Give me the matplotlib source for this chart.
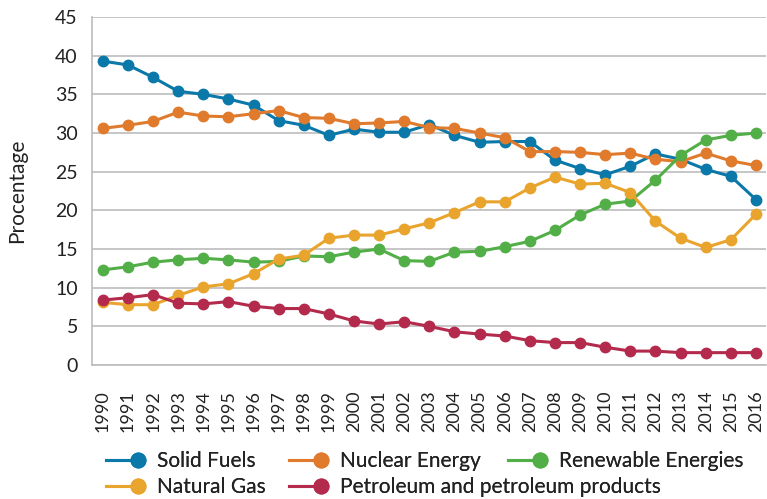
import numpy as np
import matplotlib.pyplot as plt
from matplotlib.lines import Line2D
from matplotlib.legend_handler import HandlerBase
import matplotlib.transforms as mtransforms

plt.rcParams['font.family'] = ['Lato', 'DejaVu Sans']

years = np.arange(1990, 2017)

solid_fuels = [39.3, 38.8, 37.2, 35.4, 35.0, 34.4, 33.6, 31.6, 31.0, 29.7,
               30.5, 30.1, 30.1, 31.1, 29.7, 28.8, 28.9, 28.9, 26.5, 25.4,
               24.6, 25.7, 27.3, 26.6, 25.3, 24.4, 21.4]
nuclear = [30.6, 31.0, 31.5, 32.7, 32.2, 32.1, 32.5, 32.9, 32.0, 31.9,
           31.2, 31.3, 31.5, 30.7, 30.6, 30.0, 29.4, 27.6, 27.6, 27.5,
           27.2, 27.4, 26.6, 26.3, 27.4, 26.4, 25.8]
renewable = [12.3, 12.7, 13.3, 13.6, 13.8, 13.6, 13.3, 13.4, 14.1, 14.0,
             14.6, 15.0, 13.5, 13.4, 14.6, 14.7, 15.3, 16.0, 17.4, 19.4,
             20.8, 21.2, 23.9, 27.1, 29.1, 29.7, 30.0]
natural_gas = [8.1, 7.8, 7.8, 9.0, 10.1, 10.5, 11.8, 13.7, 14.2, 16.4,
               16.8, 16.8, 17.6, 18.4, 19.7, 21.1, 21.1, 22.9, 24.3, 23.4,
               23.5, 22.3, 18.6, 16.4, 15.2, 16.2, 19.5]
petroleum = [8.4, 8.7, 9.1, 8.0, 7.9, 8.2, 7.6, 7.3, 7.3, 6.6,
             5.7, 5.3, 5.6, 5.0, 4.3, 4.0, 3.75, 3.15, 2.9, 2.9,
             2.3, 1.8, 1.8, 1.6, 1.6, 1.6, 1.6]

series = [
    ("Solid Fuels", solid_fuels, "#0a78a8"),
    ("Nuclear Energy", nuclear, "#e07a2c"),
    ("Renewable Energies", renewable, "#52ae47"),
    ("Natural Gas", natural_gas, "#e9a42e"),
    ("Petroleum and petroleum products", petroleum, "#b32a4c"),
]


# legend key: line with the dot at its right end
class EndDot(HandlerBase):
    def create_artists(self, legend, orig_handle, xdescent, ydescent,
                       width, height, fontsize, trans):
        y = height / 2 - ydescent
        col = orig_handle.get_color()
        ln = Line2D([-xdescent, width - xdescent - 6], [y, y], color=col,
                    lw=2.2, transform=trans)
        dot = Line2D([width - xdescent - 6], [y], marker="o", ms=10.5,
                     color=col, lw=0, transform=trans)
        return [ln, dot]


fig = plt.figure(figsize=(7.67, 4.99), dpi=100)
ax = fig.add_axes([0.1196, 0.2685, 0.8791, 0.6974])

grid_c = "#bcbcbc"
text_c = "#222222"
handles = {}
for name, vals, col in series:
    ax.plot(years, vals, color=col, lw=2.2, marker="o", ms=7.5, zorder=3)
    handles[name] = Line2D([], [], color=col)

ax.set_xlim(1989.56, 2016.4)
ax.set_ylim(0, 45)
ax.set_yticks(np.arange(0, 46, 5))
ax.set_xticks(years)
ax.set_xticklabels([])
ax.tick_params(axis="y", labelsize=14, labelcolor=text_c, pad=10)
ax.tick_params(length=0)

# year labels, rotated, aligned at their start
trans = mtransforms.blended_transform_factory(ax.transData, ax.transAxes)
trans = trans + mtransforms.ScaledTranslation(0, -67 / 100, fig.dpi_scale_trans)
for y in years:
    ax.text(y, 0, str(y), transform=trans, rotation=90, ha="center",
            va="bottom", fontsize=13, color=text_c)

ax.yaxis.grid(True, color=grid_c, lw=1.2)
ax.set_axisbelow(True)
for s in ["top", "right"]:
    ax.spines[s].set_visible(False)
for s in ["left", "bottom"]:
    ax.spines[s].set_color(grid_c)
    ax.spines[s].set_linewidth(1.2)
ax.set_ylabel("Procentage", fontsize=15, color=text_c)
ax.yaxis.set_label_coords(-0.096, 0.5)

# legend entries placed like the reference (two rows)
places = [
    ("Solid Fuels", 106, 461),
    ("Nuclear Energy", 289, 461),
    ("Renewable Energies", 508, 461),
    ("Natural Gas", 106, 487),
    ("Petroleum and petroleum products", 289, 487),
]
for name, px, py in places:
    lg = fig.legend(handles=[handles[name]], labels=[name], loc="center left",
                    bbox_to_anchor=(px / 767, 1 - py / 499), frameon=False,
                    fontsize=15, handlelength=1.95, handletextpad=0.48,
                    borderpad=0, borderaxespad=0,
                    handler_map={Line2D: EndDot()})
    for t in lg.get_texts():
        t.set_color(text_c)
    fig.add_artist(lg)

fig.savefig("out.png", dpi=100)
